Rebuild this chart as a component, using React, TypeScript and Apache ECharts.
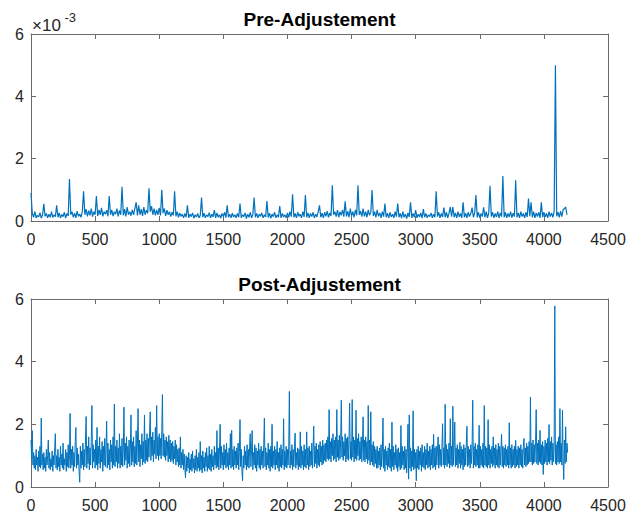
import React, { useEffect, useRef } from "react";
import * as echarts from "echarts";

// sample spacing along the x axis (observation index) for each series
const PRE_STEP = 10;
const POST_STEP = 5;

const xTicks = { min: 0, max: 4500, interval: 500 };
const yTicks = { min: 0, max: 6, interval: 2 };

const titles = ["Pre-Adjustement", "Post-Adjustement"];
const exponentBase = "×10";
const exponentPower = "-3";

// Pre-adjustment values, in units of 10^-3 (one value every PRE_STEP observations)
const preAdjustment = [
  0.9, 0.25, 0.12, 0.3, 0.1, 0.18, 0.13, 0.27, 0.09, 0.2, 0.55, 0.15, 0.24, 0.1, 0.22, 0.12, 0.3, 0.11, 0.2, 0.14,
  0.5, 0.12, 0.26, 0.1, 0.21, 0.14, 0.28, 0.09, 0.24, 0.16, 1.35, 0.2, 0.3, 0.12, 0.25, 0.1, 0.32, 0.15, 0.22, 0.12,
  0.3, 0.95, 0.2, 0.38, 0.15, 0.33, 0.18, 0.4, 0.14, 0.3, 0.2, 0.8, 0.16, 0.36, 0.2, 0.42, 0.15, 0.3, 0.22, 0.35,
  0.15, 0.8, 0.2, 0.36, 0.16, 0.3, 0.22, 0.4, 0.15, 0.34, 0.2, 1.1, 0.18, 0.38, 0.15, 0.45, 0.2, 0.3, 0.17, 0.36,
  0.2, 0.4, 0.6, 0.18, 0.5, 0.2, 0.38, 0.16, 0.45, 0.2, 0.35, 0.25, 1.05, 0.3, 0.48, 0.2, 0.4, 0.18, 0.36, 0.2,
  0.42, 0.18, 1.0, 0.25, 0.4, 0.16, 0.35, 0.2, 0.3, 0.14, 0.28, 0.18, 0.95, 0.15, 0.3, 0.12, 0.26, 0.15, 0.22, 0.1,
  0.24, 0.12, 0.5, 0.1, 0.22, 0.14, 0.26, 0.09, 0.2, 0.13, 0.24, 0.1, 0.18, 0.75, 0.12, 0.25, 0.1, 0.2, 0.14, 0.27,
  0.1, 0.22, 0.13, 0.35, 0.1, 0.26, 0.12, 0.2, 0.09, 0.24, 0.14, 0.28, 0.11, 0.5, 0.12, 0.22, 0.1, 0.25, 0.13, 0.2,
  0.1, 0.24, 0.12, 0.56, 0.1, 0.2, 0.14, 0.26, 0.08, 0.22, 0.12, 0.28, 0.1, 0.2, 0.75, 0.12, 0.24, 0.1, 0.22, 0.15,
  0.26, 0.1, 0.2, 0.13, 0.64, 0.11, 0.25, 0.09, 0.22, 0.14, 0.28, 0.1, 0.2, 0.12, 0.48, 0.1, 0.24, 0.13, 0.2, 0.1,
  0.26, 0.12, 0.3, 0.14, 0.86, 0.12, 0.24, 0.1, 0.28, 0.15, 0.22, 0.1, 0.3, 0.13, 0.83, 0.12, 0.26, 0.1, 0.24, 0.14,
  0.28, 0.1, 0.22, 0.13, 0.3, 0.5, 0.12, 0.25, 0.1, 0.28, 0.15, 0.32, 0.12, 0.26, 0.16, 1.15, 0.2, 0.3, 0.14, 0.35,
  0.12, 0.3, 0.18, 0.36, 0.14, 0.63, 0.15, 0.32, 0.12, 0.4, 0.16, 0.3, 0.12, 0.36, 0.18, 1.15, 0.2, 0.32, 0.14, 0.4,
  0.15, 0.3, 0.12, 0.36, 0.18, 0.28, 0.99, 0.16, 0.3, 0.12, 0.36, 0.15, 0.26, 0.1, 0.3, 0.14, 0.56, 0.12, 0.25, 0.1,
  0.28, 0.13, 0.22, 0.1, 0.3, 0.14, 0.56, 0.12, 0.24, 0.09, 0.3, 0.12, 0.22, 0.08, 0.26, 0.13, 0.6, 0.1, 0.24, 0.12,
  0.35, 0.1, 0.22, 0.13, 0.26, 0.09, 0.38, 0.12, 0.24, 0.1, 0.2, 0.14, 0.26, 0.1, 0.22, 0.12, 0.95, 0.14, 0.28, 0.1,
  0.24, 0.13, 0.43, 0.12, 0.28, 0.1, 0.25, 0.45, 0.14, 0.45, 0.12, 0.26, 0.1, 0.3, 0.13, 0.24, 0.1, 0.6, 0.12, 0.25,
  0.1, 0.28, 0.14, 0.24, 0.43, 0.12, 0.26, 0.83, 0.12, 0.28, 0.1, 0.24, 0.14, 0.44, 0.12, 0.3, 0.1, 0.26, 1.13, 0.14,
  0.28, 0.1, 0.24, 0.13, 0.3, 0.1, 0.26, 0.14, 1.44, 0.12, 0.28, 0.1, 0.24, 0.13, 0.3, 0.11, 0.25, 0.14, 1.31, 0.12,
  0.26, 0.1, 0.3, 0.14, 0.24, 0.1, 0.28, 0.13, 0.72, 0.15, 0.6, 0.12, 0.3, 0.1, 0.26, 0.14, 0.28, 0.1, 0.6, 0.12,
  0.28, 0.13, 0.24, 0.1, 0.3, 0.14, 0.26, 0.12, 0.3, 5.0, 0.15, 0.28, 0.12, 0.32, 0.14, 0.36, 0.4, 0.45, 0.2,
];

// Post-adjustment values (one value every POST_STEP observations)
const postAdjustment = [
  1.5, 0.9, 1.8, 0.7, 1.1, 0.6, 1.0, 0.55, 1.2, 0.7, 0.95, 0.5, 1.15, 0.65, 1.3, 0.6, 2.2, 0.7, 1.05, 0.55,
  1.1, 0.6, 0.95, 0.5, 1.2, 0.7, 1.0, 1.5, 0.6, 1.1, 0.55, 0.9, 0.65, 1.15, 0.5, 1.0, 0.7, 1.25, 1.7, 0.6,
  1.0, 0.55, 1.2, 0.65, 0.95, 0.5, 1.3, 0.7, 1.05, 0.6, 1.4, 0.55, 0.9, 0.7, 1.2, 0.5, 1.1, 0.65, 1.35, 0.6,
  1.0, 2.35, 0.6, 1.2, 0.7, 1.3, 0.5, 1.1, 0.65, 1.45, 1.9, 0.6, 1.25, 0.7, 1.05, 0.5, 0.15, 1.3, 0.6, 1.15,
  0.7, 1.4, 0.55, 1.2, 0.65, 1.5, 2.25, 0.6, 1.3, 0.75, 1.6, 0.55, 1.25, 0.7, 1.45, 2.6, 0.6, 1.35, 0.8, 1.2,
  0.6, 1.5, 0.7, 1.9, 0.55, 1.3, 0.75, 1.6, 0.6, 1.2, 0.8, 1.45, 0.5, 1.3, 0.7, 1.55, 0.65, 1.25, 2.1, 0.6,
  1.4, 0.7, 1.2, 0.55, 1.5, 0.8, 1.35, 0.6, 1.6, 0.7, 2.65, 0.65, 1.3, 0.8, 1.5, 0.6, 1.25, 0.75, 1.7, 0.6,
  1.3, 0.7, 1.55, 0.65, 1.2, 2.55, 0.7, 1.4, 0.85, 1.6, 0.6, 1.3, 0.75, 1.5, 0.65, 1.2, 2.3, 0.7, 1.45, 0.8,
  1.6, 0.65, 1.3, 0.75, 1.8, 0.7, 1.4, 2.5, 0.8, 1.5, 0.65, 1.35, 0.9, 1.7, 0.7, 1.45, 0.8, 2.3, 0.75, 1.5,
  0.85, 1.7, 0.8, 1.55, 0.95, 1.8, 2.4, 0.85, 1.6, 1.0, 1.75, 0.8, 1.5, 1.05, 1.9, 0.9, 2.6, 1.0, 1.6, 0.85,
  1.7, 1.0, 1.55, 0.9, 1.8, 2.95, 1.0, 1.7, 0.95, 1.5, 0.85, 1.6, 1.0, 1.45, 0.8, 1.65, 0.9, 1.5, 0.8, 1.4,
  0.85, 1.45, 0.75, 1.3, 0.9, 1.5, 0.7, 1.35, 0.8, 1.2, 0.65, 1.25, 0.7, 1.6, 0.6, 1.1, 0.7, 1.2, 0.55, 1.05,
  0.6, 0.3, 1.0, 0.5, 0.95, 0.6, 1.1, 0.45, 0.9, 0.55, 1.05, 0.5, 1.15, 0.6, 0.9, 0.45, 1.0, 0.55, 1.2, 0.5,
  0.95, 0.6, 1.1, 0.5, 1.45, 0.55, 1.0, 0.45, 1.15, 0.6, 0.95, 0.5, 1.1, 0.65, 1.25, 0.5, 1.0, 0.6, 1.3, 0.55,
  1.05, 0.5, 1.2, 0.65, 1.0, 0.55, 1.3, 0.7, 1.1, 0.6, 1.8, 0.65, 1.25, 0.55, 1.15, 2.0, 0.6, 1.3, 0.7, 1.1,
  0.55, 1.35, 0.7, 1.2, 0.6, 1.4, 0.65, 1.1, 0.55, 1.25, 0.7, 1.7, 0.6, 1.81, 0.65, 1.2, 0.55, 1.3, 0.7, 1.15,
  0.6, 1.25, 0.7, 1.4, 0.55, 1.1, 2.15, 0.65, 1.2, 0.5, 0.2, 1.0, 0.6, 1.3, 0.7, 1.15, 0.55, 1.35, 0.65, 1.2,
  0.6, 1.3, 1.7, 0.65, 1.2, 1.8, 0.55, 1.1, 0.7, 1.35, 0.6, 1.25, 0.5, 1.15, 0.7, 1.4, 0.6, 1.2, 0.55, 1.3,
  0.7, 1.15, 0.6, 1.35, 2.2, 0.65, 1.25, 0.55, 1.1, 0.7, 1.4, 0.6, 1.2, 0.5, 1.3, 0.65, 2.0, 0.6, 1.15, 0.7,
  1.3, 0.55, 1.2, 0.7, 1.45, 0.6, 1.1, 0.5, 1.25, 0.65, 1.35, 0.6, 1.2, 0.7, 2.18, 0.55, 1.15, 0.65, 1.3, 0.6,
  1.2, 0.7, 1.3, 3.05, 0.6, 1.15, 0.7, 1.35, 0.55, 1.2, 0.65, 1.3, 1.72, 0.6, 1.1, 0.7, 1.25, 0.55, 1.2, 0.65,
  1.76, 0.6, 1.3, 0.7, 1.15, 0.55, 1.35, 0.65, 1.2, 0.6, 1.76, 0.7, 1.25, 0.55, 1.3, 0.65, 1.15, 0.7, 1.4, 0.6,
  1.25, 1.94, 0.65, 1.3, 0.75, 1.4, 0.6, 1.2, 0.7, 1.35, 0.65, 1.45, 0.8, 1.3, 0.7, 1.5, 0.75, 1.35, 0.85, 1.4,
  0.8, 1.5, 0.9, 1.6, 0.85, 2.47, 0.9, 1.45, 0.8, 1.55, 1.0, 1.7, 0.85, 1.5, 0.9, 1.6, 0.8, 2.47, 0.95, 1.5,
  0.85, 1.65, 0.9, 1.5, 2.77, 0.95, 1.6, 0.85, 1.45, 1.0, 1.7, 0.8, 1.55, 0.9, 1.6, 0.85, 1.5, 2.68, 0.9, 1.45,
  0.85, 2.79, 0.95, 1.6, 0.8, 1.5, 0.9, 2.45, 0.85, 1.55, 1.0, 1.7, 0.85, 1.45, 0.9, 1.6, 0.8, 1.4, 2.24, 0.85,
  1.5, 0.8, 1.6, 0.9, 1.45, 0.75, 2.6, 0.85, 1.5, 0.7, 2.4, 0.8, 1.35, 0.7, 1.45, 0.65, 1.3, 0.75, 1.2, 0.6,
  1.3, 0.6, 1.15, 0.7, 1.25, 0.55, 1.35, 0.65, 1.1, 2.2, 0.6, 1.2, 0.5, 1.3, 0.7, 1.15, 0.55, 1.25, 0.65, 1.4,
  0.6, 1.2, 0.5, 2.07, 0.65, 1.3, 0.55, 1.1, 0.7, 1.35, 0.6, 1.2, 0.5, 1.25, 0.65, 1.1, 0.55, 1.96, 0.6, 1.3,
  0.7, 1.15, 0.55, 1.3, 0.6, 1.2, 0.45, 1.1, 2.0, 0.25, 2.3, 0.6, 1.25, 0.5, 1.15, 0.65, 2.43, 0.55, 1.2, 0.6,
  1.1, 0.2, 1.2, 0.6, 1.3, 0.55, 1.15, 0.7, 1.25, 0.5, 1.35, 0.65, 1.1, 0.6, 1.3, 0.55, 1.2, 0.7, 1.4, 0.6,
  1.15, 0.65, 1.3, 0.55, 1.2, 0.7, 1.35, 0.6, 1.68, 0.65, 1.25, 0.55, 1.3, 0.7, 1.15, 1.6, 0.6, 1.35, 0.7, 1.2,
  0.65, 1.3, 2.02, 0.7, 1.25, 0.6, 2.64, 0.7, 1.35, 0.65, 1.2, 0.75, 1.4, 0.6, 2.18, 0.7, 1.3, 0.65, 2.58, 0.7,
  1.3, 2.07, 0.65, 1.25, 0.7, 1.35, 0.6, 1.2, 0.75, 1.43, 0.6, 1.3, 0.7, 1.2, 0.55, 1.35, 0.65, 1.25, 0.7, 1.4,
  1.94, 0.65, 1.3, 0.7, 1.2, 0.6, 1.35, 0.75, 1.25, 2.77, 0.6, 1.3, 0.7, 1.4, 0.65, 1.2, 0.7, 1.35, 0.6, 1.97,
  0.6, 1.3, 0.7, 1.2, 0.65, 1.4, 0.6, 2.6, 0.7, 1.3, 0.65, 1.25, 0.6, 2.15, 0.7, 1.35, 0.6, 1.2, 0.75, 1.3,
  0.65, 1.6, 0.7, 1.25, 0.6, 1.35, 0.7, 1.2, 0.65, 1.4, 0.6, 1.3, 0.7, 1.2, 1.68, 0.65, 1.3, 0.6, 1.25, 0.7,
  1.35, 0.65, 1.2, 0.7, 1.3, 0.6, 2.05, 0.7, 1.25, 0.6, 1.35, 0.65, 1.2, 0.7, 1.3, 0.6, 1.49, 0.65, 1.2, 0.7,
  1.3, 0.6, 1.25, 0.7, 1.35, 0.65, 1.2, 0.6, 1.3, 1.55, 0.7, 1.25, 0.65, 1.4, 0.7, 1.3, 0.75, 1.45, 0.8, 2.87,
  0.8, 1.4, 0.7, 1.5, 0.75, 1.35, 0.8, 1.45, 2.47, 0.75, 1.4, 0.7, 1.5, 0.8, 1.81, 0.75, 1.35, 0.7, 1.45, 0.4,
  1.3, 0.75, 1.5, 0.8, 1.4, 0.7, 1.55, 0.8, 1.99, 0.75, 1.45, 0.85, 1.6, 0.7, 1.4, 0.8, 1.3, 5.78, 0.75, 1.35,
  0.7, 1.45, 0.8, 1.6, 0.75, 2.5, 0.8, 1.4, 0.7, 2.45, 0.8, 0.24, 1.5, 0.75, 1.92, 0.8, 1.4, 1.1,
];

const FONT = "'Liberation Sans', Arial, Helvetica, sans-serif";
const TEXT_COLOR = "#262626";
const BOX_COLOR = "#6b6b6b";
const LINE_COLOR = "#0072BD";

export default function App() {
  const ref = useRef<HTMLDivElement>(null);

  useEffect(() => {
    if (!ref.current) return;
    const chart = echarts.init(ref.current, null, { renderer: "svg" });

    const grids = [
      { left: 31, right: 22, top: 34, height: 187 },
      { left: 31, right: 22, top: 299, height: 188 },
    ];

    const xAxis: any[] = [];
    const yAxis: any[] = [];
    grids.forEach((_, g) => {
      const line = { show: true, onZero: false, lineStyle: { color: BOX_COLOR, width: 1 } };
      const tick = { show: true, inside: true, length: 5, lineStyle: { color: BOX_COLOR, width: 1 } };
      xAxis.push({
        type: "value", gridIndex: g, position: "bottom", ...xTicks,
        axisLine: line, axisTick: tick, splitLine: { show: false },
        axisLabel: {
          color: TEXT_COLOR, fontSize: 16, fontFamily: FONT, margin: 10,
          showMinLabel: true, showMaxLabel: true, formatter: (v: number) => String(v),
        },
      });
      xAxis.push({
        type: "value", gridIndex: g, position: "top", ...xTicks,
        axisLine: line, axisTick: tick, splitLine: { show: false }, axisLabel: { show: false },
      });
      yAxis.push({
        type: "value", gridIndex: g, position: "left", ...yTicks,
        axisLine: line, axisTick: tick, splitLine: { show: false },
        axisLabel: { color: TEXT_COLOR, fontSize: 16, fontFamily: FONT, margin: 7, formatter: (v: number) => String(v) },
      });
      yAxis.push({
        type: "value", gridIndex: g, position: "right", ...yTicks,
        axisLine: line, axisTick: tick, splitLine: { show: false }, axisLabel: { show: false },
      });
    });

    const toPairs = (arr: number[], step: number) => arr.map((v, i) => [i * step, v]);

    const lineSeries = (data: number[], step: number, g: number, width: number) => ({
      type: "line",
      xAxisIndex: g * 2,
      yAxisIndex: g * 2,
      data: toPairs(data, step),
      symbol: "none",
      showSymbol: false,
      lineStyle: { color: LINE_COLOR, width },
      itemStyle: { color: LINE_COLOR },
    });

    const centerX = 31 + (630 - 31 - 22) / 2;

    chart.setOption({
      animation: false,
      backgroundColor: "#ffffff",
      grid: grids,
      xAxis,
      yAxis,
      series: [
        lineSeries(preAdjustment, PRE_STEP, 0, 1.2),
        lineSeries(postAdjustment, POST_STEP, 1, 1.0),
      ],
      graphic: [
        {
          type: "text", x: centerX, y: 19.5,
          style: {
            text: titles[0], font: `bold 19px ${FONT}`, fill: "#000",
            align: "center", verticalAlign: "middle", textAlign: "center", textVerticalAlign: "middle",
          },
        },
        {
          type: "text", x: centerX, y: 284.5,
          style: {
            text: titles[1], font: `bold 19px ${FONT}`, fill: "#000",
            align: "center", verticalAlign: "middle", textAlign: "center", textVerticalAlign: "middle",
          },
        },
        {
          type: "text", x: 32, y: 25,
          style: {
            text: exponentBase, font: `17px ${FONT}`, fill: TEXT_COLOR,
            align: "left", verticalAlign: "middle", textAlign: "left", textVerticalAlign: "middle",
          },
        },
        {
          type: "text", x: 64.5, y: 17.5,
          style: {
            text: exponentPower, font: `13px ${FONT}`, fill: TEXT_COLOR,
            align: "left", verticalAlign: "middle", textAlign: "left", textVerticalAlign: "middle",
          },
        },
      ],
    });

    return () => chart.dispose();
  }, []);

  return (
    <div
      ref={ref}
      style={{ position: "fixed", left: 0, top: 0, width: 630, height: 517, background: "#fff" }}
    />
  );
}
